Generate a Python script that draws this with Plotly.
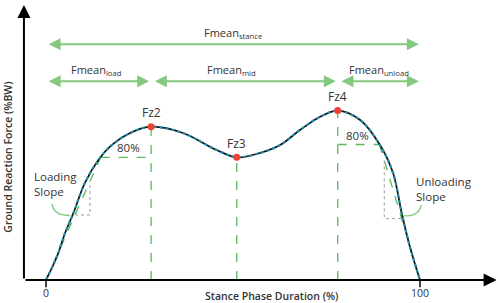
import numpy as np
import plotly.graph_objects as go

# ---- data (stance phase %, vertical GRF %BW) ----
stance_pct = [0, 2.9, 5.1, 7.3, 10.4, 14.0, 17.1, 22.5, 28.1, 36.6, 45.6, 51.0,
              57.2, 62.6, 67.9, 73.3, 78.0, 84.0, 89.3, 92.8, 95.1, 97.3, 100]
grf_bw = [0, 16.6, 33.6, 47.6, 69.3, 85.7, 95.2, 105.0, 109.5, 105.0, 92.9, 87.6,
          90.7, 96.4, 107.1, 116.6, 121.0, 114.3, 96.4, 76.4, 47.9, 23.8, 0]

peak_names = ["Fz2", "Fz3", "Fz4"]
peak_x = [28.1, 51.0, 78.0]
peak_y = [109.5, 87.6, 121.0]

tick_vals = [0, 100]
tick_labels = ["0", "100"]

phase_names = ["Fmean<sub>load</sub>", "Fmean<sub>mid</sub>", "Fmean<sub>unload</sub>"]
phase_bounds = [(0.3, 27.6), (28.7, 77.5), (78.6, 99.7)]
phase_label_x = [13.5, 49.7, 89.0]
stance_label = "Fmean<sub>stance</sub>"
stance_bounds = (0.3, 99.7)

loading_ratio = 0.8

# ---- derived ----
xs = np.array(stance_pct)
ys = np.array(grf_bw)
i2 = stance_pct.index(peak_x[0])
i4 = stance_pct.index(peak_x[2])
lvl_load = loading_ratio * peak_y[0]
lvl_unload = loading_ratio * peak_y[2]
x80_load = float(np.interp(lvl_load, ys[:i2 + 1], xs[:i2 + 1]))
x80_unload = float(np.interp(lvl_unload, ys[i4:][::-1], xs[i4:][::-1]))

X_RANGE = [-12.30, 120.86]
Y_RANGE = [-16.43, 200.0]

GREEN_ARROW = "#84c97e"
GREEN_DASH = "#5cb85a"
TXT = "#333333"
FONT = "Open Sans"

fig = go.Figure()

# curve: black base + teal dotted overlay
fig.add_trace(go.Scatter(x=stance_pct, y=grf_bw, mode="lines",
                         line=dict(color="#111111", width=1.7, shape="spline", smoothing=1.0),
                         hoverinfo="skip", cliponaxis=False))
fig.add_trace(go.Scatter(x=stance_pct, y=grf_bw, mode="lines",
                         line=dict(color="#1e8fae", width=2.2, dash="dot", shape="spline", smoothing=1.0),
                         hoverinfo="skip", cliponaxis=False))

shapes = []
dash_line = dict(color=GREEN_DASH, width=1.3, dash="dash")
# vertical dashed lines at peaks
for px_, py_ in zip(peak_x, peak_y):
    shapes.append(dict(type="line", x0=px_, x1=px_, y0=0, y1=py_, line=dash_line, layer="below"))
# 80% horizontal lines
shapes.append(dict(type="line", x0=x80_load, x1=peak_x[0], y0=lvl_load, y1=lvl_load,
                   line=dash_line, layer="below"))
shapes.append(dict(type="line", x0=peak_x[2], x1=x80_unload, y0=lvl_unload, y1=lvl_unload,
                   line=dash_line, layer="below"))
# slope lines
shapes.append(dict(type="line", x0=0, y0=0, x1=x80_load, y1=lvl_load, line=dash_line, layer="below"))
shapes.append(dict(type="line", x0=x80_unload, y0=lvl_unload, x1=100, y1=0, line=dash_line, layer="below"))


def lin(x, x0, y0, x1, y1):
    return y0 + (y1 - y0) * (x - x0) / (x1 - x0)


# slope triangles (gray dotted)
la, lb = 7.75, 11.76
ya, yb = lin(la, 0, 0, x80_load, lvl_load), lin(lb, 0, 0, x80_load, lvl_load)
shapes.append(dict(type="path", path=f"M {la},{ya} L {lb},{ya} L {lb},{yb}",
                   line=dict(color="#999999", width=1, dash="dot")))
ua, ub = 90.45, 95.1
uya, uyb = lin(ua, x80_unload, lvl_unload, 100, 0), lin(ub, x80_unload, lvl_unload, 100, 0)
shapes.append(dict(type="path", path=f"M {ua},{uya} L {ua},{uyb} L {ub},{uyb}",
                   line=dict(color="#999999", width=1, dash="dot")))

# curved connectors for slope labels
shapes.append(dict(type="path", path="M 1.6,54.3 Q 2.2,45.2 6.4,46.4",
                   line=dict(color=GREEN_ARROW, width=1.3)))
shapes.append(dict(type="path", path="M 100.3,53.6 Q 99.8,45.2 95.8,45.9",
                   line=dict(color=GREEN_ARROW, width=1.3)))

# x ticks
for tv in tick_vals:
    shapes.append(dict(type="line", x0=tv, x1=tv, y0=0, y1=-5.2,
                       line=dict(color="black", width=1.5)))

fig.update_layout(shapes=shapes)

# peak markers
fig.add_trace(go.Scatter(x=peak_x, y=peak_y, mode="markers",
                         marker=dict(color="#ec4134", size=7), hoverinfo="skip", cliponaxis=False))

ann = []
# axes arrows
ann.append(dict(x=120.5, y=0, ax=-5.9, ay=0, xref="x", yref="y", axref="x", ayref="y",
                showarrow=True, arrowhead=2, arrowsize=1.3, arrowwidth=2, arrowcolor="black", text=""))
ann.append(dict(x=-5.9, y=196.5, ax=-5.9, ay=0, xref="x", yref="y", axref="x", ayref="y",
                showarrow=True, arrowhead=2, arrowsize=1.3, arrowwidth=2, arrowcolor="black", text=""))


# Fmean double arrows
def darrow(x0, x1, y):
    return dict(x=x1, y=y, ax=x0, ay=y, xref="x", yref="y", axref="x", ayref="y",
                showarrow=True, arrowhead=2, startarrowhead=2, arrowside="end+start",
                arrowsize=1.2, startarrowsize=1.2, arrowwidth=2, arrowcolor=GREEN_ARROW, text="")


ann.append(darrow(stance_bounds[0], stance_bounds[1], 168.4))
ann.append(dict(x=50.0, y=176.5, text=stance_label, showarrow=False,
                font=dict(family=FONT, size=11, color=TXT)))
for (b0, b1), name, lx in zip(phase_bounds, phase_names, phase_label_x):
    ann.append(darrow(b0, b1, 141.9))
    ann.append(dict(x=lx, y=150.0, text=name, showarrow=False,
                    font=dict(family=FONT, size=11, color=TXT)))

# peak labels
for n, px_, py_ in zip(peak_names, peak_x, peak_y):
    ann.append(dict(x=px_, y=py_, text=n, showarrow=False, yshift=14,
                    font=dict(family=FONT, size=12, color=TXT)))

# 80% labels
ann.append(dict(x=(x80_load + peak_x[0]) / 2 + 0.6, y=lvl_load, text=f"{int(loading_ratio*100)}%",
                showarrow=False, yanchor="bottom", yshift=0,
                font=dict(family=FONT, size=11.5, color=TXT)))
ann.append(dict(x=(peak_x[2] + x80_unload) / 2 - 0.4, y=lvl_unload, text=f"{int(loading_ratio*100)}%",
                showarrow=False, yanchor="bottom", yshift=-1,
                font=dict(family=FONT, size=11.5, color=TXT)))

# slope labels
ann.append(dict(x=-3.8, y=68.5, text="Loading<br>Slope", showarrow=False, xanchor="left",
                align="left", font=dict(family=FONT, size=11.5, color=TXT)))
ann.append(dict(x=98.4, y=64.8, text="Unloading<br>Slope", showarrow=False, xanchor="left",
                align="left", font=dict(family=FONT, size=11.5, color=TXT)))

# tick labels
for tv, tl in zip(tick_vals, tick_labels):
    ann.append(dict(x=tv, y=-9.3, text=tl, showarrow=False,
                    font=dict(family=FONT, size=10.5, color=TXT)))

# axis titles
ann.append(dict(x=60.2, y=-11.2, text="Stance Phase Duration (%)", showarrow=False,
                font=dict(family=FONT, size=10.5, color=TXT, weight=600)))
ann.append(dict(x=-10.2, y=88.0, text="Ground Reaction Force (%BW)", showarrow=False, textangle=-90,
                font=dict(family=FONT, size=10.5, color=TXT, weight=600)))

fig.update_layout(
    annotations=ann,
    width=498, height=303,
    margin=dict(l=0, r=0, t=0, b=0),
    paper_bgcolor="white", plot_bgcolor="white",
    showlegend=False,
    xaxis=dict(range=X_RANGE, visible=False, fixedrange=True),
    yaxis=dict(range=Y_RANGE, visible=False, fixedrange=True),
)

fig.write_html("out.html", config={"displayModeBar": False},
               post_script="document.body.style.margin='0';document.body.style.overflow='hidden';")
